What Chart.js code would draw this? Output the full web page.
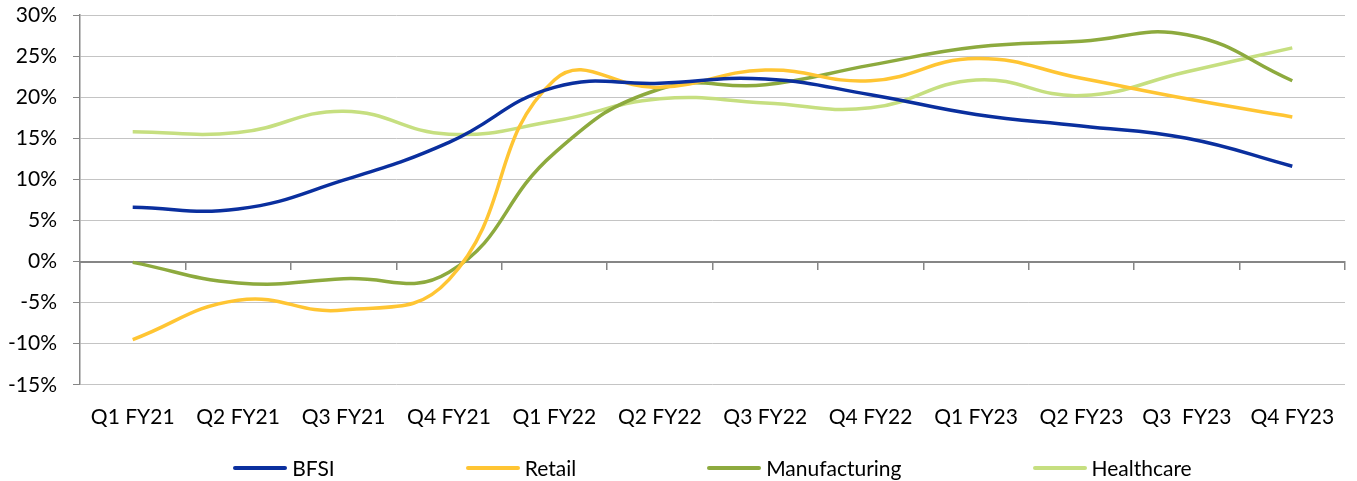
<!DOCTYPE html>
<html>
<head>
<meta charset="utf-8">
<script src="https://cdn.jsdelivr.net/npm/chart.js@4.4.1/dist/chart.umd.min.js"></script>
<style>
  html, body { margin: 0; padding: 0; background: #fff; }
  #wrap { position: relative; width: 1357px; height: 481px; }
  #legend {
    position: absolute; top: 455px;
    display: flex; justify-content: center; gap: 131px;
    font: 21px Lato, sans-serif; color: #000;
  }
  .item { display: flex; align-items: center; white-space: nowrap; line-height: 25px; }
  .swatch { width: 54px; height: 4px; border-radius: 2px; margin-right: 5px; }
</style>
</head>
<body>
<div id="wrap">
  <canvas id="grafico" width="1357" height="481"></canvas>
  <div id="legend"></div>
</div>
<script>
// Categorías (trimestres)
const categories = ["Q1 FY21", "Q2 FY21", "Q3 FY21", "Q4 FY21", "Q1 FY22", "Q2 FY22",
  "Q3 FY22", "Q4 FY22", "Q1 FY23", "Q2 FY23", "Q3  FY23", "Q4 FY23"];

// Series (%)
const bfsi          = [6.6, 6.4, 9.9, 14.5, 21.2, 21.7, 22.2, 20.3, 17.9, 16.5, 15.0, 11.6];
const retail        = [-9.5, -4.7, -5.9, -2.2, 22.1, 21.2, 23.3, 22.0, 24.7, 22.3, 19.8, 17.6];
const manufacturing = [-0.1, -2.6, -2.1, -1.3, 13.2, 21.0, 21.5, 23.9, 26.1, 26.8, 27.6, 22.0];
const healthcare    = [15.8, 15.7, 18.3, 15.5, 17.1, 19.8, 19.3, 18.7, 22.1, 20.2, 23.1, 26.0];

const seriesNames = ["BFSI", "Retail", "Manufacturing", "Healthcare"];

// Eje Y
const yMin = -15;
const yMax = 30;
const yStep = 5;

const colores = ["#0A2F9E", "#FFC533", "#8DAA3E", "#C6DF80"];
const valores = [bfsi, retail, manufacturing, healthcare];

Chart.defaults.font.family = "Lato, sans-serif";
Chart.defaults.font.size = 21;
Chart.defaults.color = "#000";

const ctx = document.getElementById("grafico").getContext("2d");

const grafico = new Chart(ctx, {
  type: "line",
  data: {
    labels: categories,
    datasets: seriesNames.map((name, i) => ({
      label: name,
      data: valores[i],
      borderColor: colores[i],
      backgroundColor: colores[i],
      borderWidth: 3.5,
      pointRadius: 0,
      tension: 0.45,
      fill: false,
      xAxisID: "x",
      yAxisID: "y"
    }))
  },
  options: {
    responsive: false,
    animation: false,
    layout: { padding: { top: 15, right: 12, bottom: 31, left: 0 } },
    plugins: {
      legend: { display: false },
      tooltip: { enabled: false }
    },
    scales: {
      x: {
        type: "category",
        position: "bottom",
        offset: true,
        grid: { display: false, drawTicks: false },
        border: { display: false },
        ticks: { padding: 20, color: "#000", maxRotation: 0, autoSkip: false }
      },
      // eje en 0% con marcas entre categorías
      x0: {
        type: "category",
        labels: categories,
        position: { y: 0 },
        offset: true,
        grid: {
          offset: true,
          drawOnChartArea: false,
          drawTicks: true,
          tickLength: 7,
          color: "#868686",
          lineWidth: 1.5
        },
        border: { color: "#868686", width: 2 },
        ticks: { display: false }
      },
      y: {
        min: yMin,
        max: yMax,
        afterFit: (scale) => {
          scale.width = 80;
          // sin relleno extra arriba/abajo (lo controla layout.padding)
          scale.paddingTop = 0;
          scale.paddingBottom = 0;
        },
        ticks: {
          stepSize: yStep,
          padding: 16,
          color: "#000",
          callback: (v) => `${v}%`
        },
        grid: {
          color: (c) => (c.tick && c.tick.value === 0) ? "#868686" : "#C4C4C4",
          lineWidth: 1,
          tickLength: 7,
          tickColor: "#868686"
        },
        border: { color: "#868686", width: 1.5 }
      }
    }
  }
});

// Leyenda en HTML (espaciado como el original)
const legendEl = document.getElementById("legend");
const area = grafico.chartArea;
legendEl.style.left = area.left + "px";
legendEl.style.width = (area.right - area.left) + "px";
grafico.data.datasets.forEach(ds => {
  const item = document.createElement("div");
  item.className = "item";
  const sw = document.createElement("span");
  sw.className = "swatch";
  sw.style.background = ds.borderColor;
  const txt = document.createElement("span");
  txt.textContent = ds.label;
  item.appendChild(sw);
  item.appendChild(txt);
  legendEl.appendChild(item);
});
</script>
</body>
</html>
